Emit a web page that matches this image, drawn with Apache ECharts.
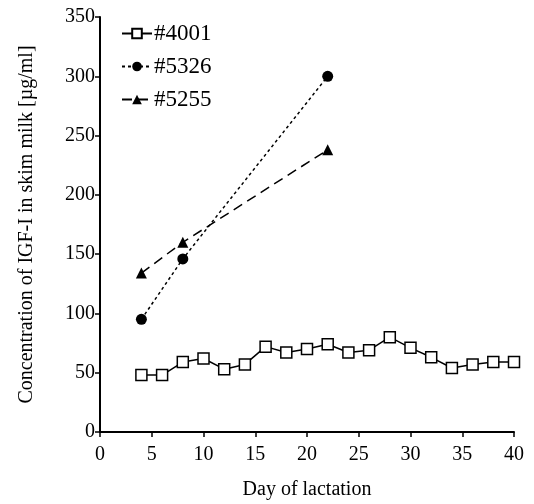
<!DOCTYPE html>
<html><head><meta charset="utf-8">
<script src="https://cdn.jsdelivr.net/npm/echarts@6/dist/echarts.min.js"></script>
<style>html,body{margin:0;padding:0;background:#fff}#c{width:534px;height:504px}</style>
</head><body><div id="c"></div>
<script>
var days4001 = [4,6,8,10,12,14,16,18,20,22,24,26,28,30,32,34,36,38,40];
var vals4001 = [48,48,59,62,53,57,72,67,70,74,67,69,80,71,63,54,57,59,59];
var days5326 = [4,8,22];
var vals5326 = [95,146,300];
var days5255 = [4,8,22];
var vals5255 = [134,160,238];
var names = ['#4001','#5326','#5255'];

function pairs(x, y){ return x.map(function(v,i){return [v,y[i]];}); }
var font = 'Liberation Serif';
var chart = echarts.init(document.getElementById('c'));
chart.setOption({
  animation:false,
  textStyle:{fontFamily:font,color:'#000'},
  grid:{left:100,right:20,top:17,bottom:72,containLabel:false,outerBoundsMode:'none'},
  legend:{
    orient:'vertical', left:116, top:17, itemGap:10, itemWidth:30, itemHeight:12,
    textStyle:{fontFamily:font,fontSize:23,color:'#000',padding:[0,0,0,-3]},
    data:names
  },
  xAxis:{
    type:'value', min:0, max:40, interval:5,
    name:'Day of lactation', nameLocation:'middle', nameGap:48,
    nameTextStyle:{fontFamily:font,fontSize:20,color:'#000'},
    axisLine:{lineStyle:{color:'#000',width:2}},
    axisTick:{lineStyle:{color:'#000',width:1.5},length:5},
    axisLabel:{fontFamily:font,fontSize:20,color:'#000',margin:13},
    splitLine:{show:false}
  },
  yAxis:{
    type:'value', min:0, max:350, interval:50,
    name:'Concentration of IGF-I in skim milk [µg/ml]', nameLocation:'middle', nameGap:63,
    nameTextStyle:{fontFamily:font,fontSize:20,color:'#000'},
    axisLine:{lineStyle:{color:'#000',width:2}},
    axisTick:{lineStyle:{color:'#000',width:1.5},length:5},
    axisLabel:{fontFamily:font,fontSize:20,color:'#000',margin:5},
    splitLine:{show:false}
  },
  series:[
    {name:names[0],type:'line',data:pairs(days4001,vals4001),symbol:'rect',symbolSize:11,
     lineStyle:{color:'#000',width:1.5},itemStyle:{color:'#fff',borderColor:'#000',borderWidth:1.5}},
    {name:names[1],type:'line',data:pairs(days5326,vals5326),symbol:'circle',symbolSize:11,
     lineStyle:{color:'#000',width:1.5,type:[3,3]},itemStyle:{color:'#000'}},
    {name:names[2],type:'line',data:pairs(days5255,vals5255),symbol:'triangle',symbolSize:11,
     lineStyle:{color:'#000',width:1.5,type:[10,6]},itemStyle:{color:'#000'}}
  ]
});
</script></body></html>
